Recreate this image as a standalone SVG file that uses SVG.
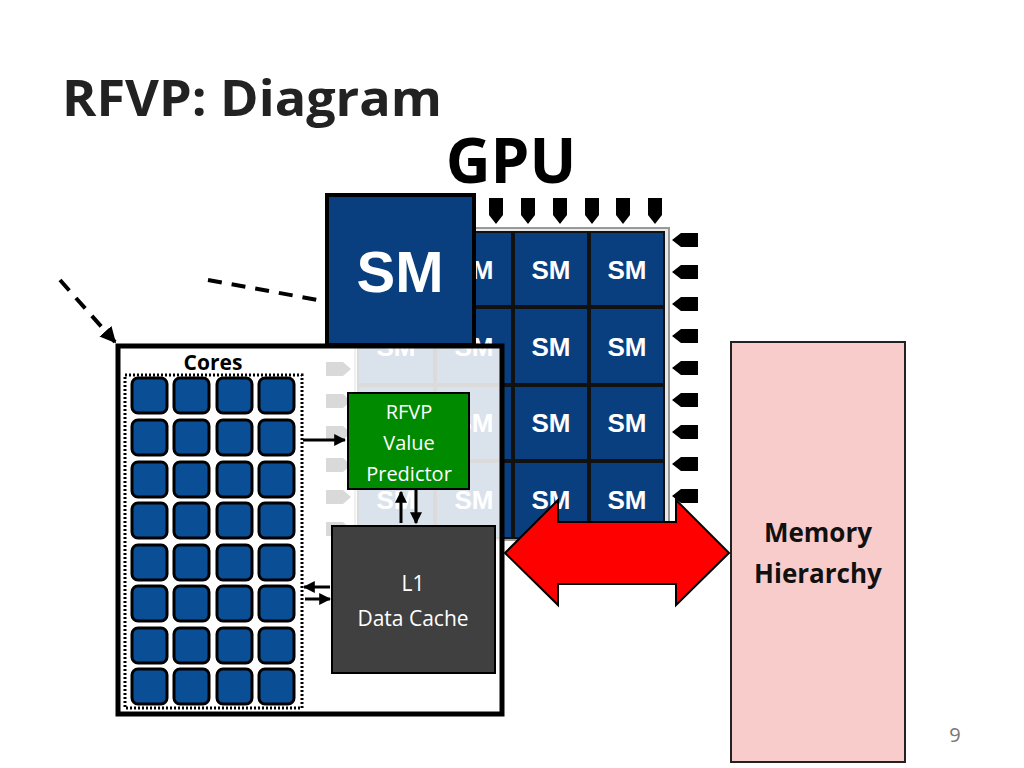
<svg xmlns="http://www.w3.org/2000/svg" width="1024" height="768" viewBox="0 0 1024 768">
<defs>
<style>
.t{font-family:"Liberation Sans",Arial,sans-serif;font-weight:bold}
.c{font-family:"Open Sans","Noto Sans",sans-serif}
.sm{fill:#0a3f7f;stroke:#111;stroke-width:2}
.core{fill:#0a4f96;stroke:#000;stroke-width:3}
.pin{fill:#000}
.ln{stroke:#000;stroke-width:3;fill:none}
</style>
<marker id="ah" viewBox="0 0 10 10" refX="9" refY="5" markerWidth="4" markerHeight="4" orient="auto"><path d="M0,0L10,5L0,10z" fill="#000"/></marker>
</defs>
<rect width="1024" height="768" fill="#fff"/>
<text x="62" y="116" class="c" font-size="50" font-weight="bold" fill="#222" textLength="380" lengthAdjust="spacingAndGlyphs">RFVP: Diagram</text>
<text x="511" y="183" class="c" font-size="62" font-weight="bold" fill="#000" text-anchor="middle">GPU</text>
<g id="gpu">
<rect x="355" y="228" width="314" height="312" fill="#e8e8e8" stroke="#999" stroke-width="2"/>
<g class="pin">
<path d="M489,198h14v17l-7,9l-7,-9z"/><path d="M521,198h14v17l-7,9l-7,-9z"/><path d="M553,198h14v17l-7,9l-7,-9z"/><path d="M585,198h14v17l-7,9l-7,-9z"/><path d="M616,198h14v17l-7,9l-7,-9z"/><path d="M648,198h14v17l-7,9l-7,-9z"/>
<path d="M698,233v14h-17l-9,-7l9,-7z"/><path d="M698,265v14h-17l-9,-7l9,-7z"/><path d="M698,297v14h-17l-9,-7l9,-7z"/><path d="M698,329v14h-17l-9,-7l9,-7z"/><path d="M698,361v14h-17l-9,-7l9,-7z"/><path d="M698,393v14h-17l-9,-7l9,-7z"/><path d="M698,425v14h-17l-9,-7l9,-7z"/><path d="M698,457v14h-17l-9,-7l9,-7z"/><path d="M698,489v14h-17l-9,-7l9,-7z"/>
<path d="M326,362h17l8,7l-8,7h-17z"/><path d="M326,394h17l8,7l-8,7h-17z"/><path d="M326,426h17l8,7l-8,7h-17z"/><path d="M326,458h17l8,7l-8,7h-17z"/><path d="M326,490h17l8,7l-8,7h-17z"/><path d="M326,522h17l8,7l-8,7h-17z"/>
</g>
<g class="t" font-size="26" fill="#fff" text-anchor="middle">
<rect class="sm" x="358" y="232" width="76" height="74"/><text x="396" y="279">SM</text>
<rect class="sm" x="436" y="232" width="76" height="74"/><text x="474" y="279">SM</text>
<rect class="sm" x="514" y="232" width="74" height="74"/><text x="551" y="279">SM</text>
<rect class="sm" x="590" y="232" width="74" height="74"/><text x="627" y="279">SM</text>
<rect class="sm" x="358" y="308" width="76" height="76"/><text x="396" y="356">SM</text>
<rect class="sm" x="436" y="308" width="76" height="76"/><text x="474" y="356">SM</text>
<rect class="sm" x="514" y="308" width="74" height="76"/><text x="551" y="356">SM</text>
<rect class="sm" x="590" y="308" width="74" height="76"/><text x="627" y="356">SM</text>
<rect class="sm" x="358" y="386" width="76" height="74"/><text x="396" y="432">SM</text>
<rect class="sm" x="436" y="386" width="76" height="74"/><text x="474" y="432">SM</text>
<rect class="sm" x="514" y="386" width="74" height="74"/><text x="551" y="432">SM</text>
<rect class="sm" x="590" y="386" width="74" height="74"/><text x="627" y="432">SM</text>
<rect class="sm" x="358" y="462" width="76" height="76"/><text x="396" y="509">SM</text>
<rect class="sm" x="436" y="462" width="76" height="76"/><text x="474" y="509">SM</text>
<rect class="sm" x="514" y="462" width="74" height="76"/><text x="551" y="509">SM</text>
<rect class="sm" x="590" y="462" width="74" height="76"/><text x="627" y="509">SM</text>
</g>
</g>
<g id="bigsm">
<rect x="327" y="195" width="147" height="150" fill="#0a3f7f" stroke="#000" stroke-width="4"/>
<text x="400" y="292" class="t" font-size="58" fill="#fff" text-anchor="middle">SM</text>
</g>
<g id="smdetail">
<rect x="118" y="346" width="384" height="368" fill="#fff" fill-opacity="0.85" stroke="#000" stroke-width="5"/>
<text x="213" y="370" class="c" font-size="21" font-weight="bold" fill="#000" text-anchor="middle">Cores</text>
<rect x="125" y="375" width="177" height="333" fill="none" stroke="#000" stroke-width="3" stroke-dasharray="2,2"/>
</g>
<g id="cores">
<rect class="core" x="132" y="378" width="35" height="35" rx="6"/><rect class="core" x="174" y="378" width="35" height="35" rx="6"/><rect class="core" x="217" y="378" width="35" height="35" rx="6"/><rect class="core" x="259" y="378" width="35" height="35" rx="6"/>
<rect class="core" x="132" y="420" width="35" height="35" rx="6"/><rect class="core" x="174" y="420" width="35" height="35" rx="6"/><rect class="core" x="217" y="420" width="35" height="35" rx="6"/><rect class="core" x="259" y="420" width="35" height="35" rx="6"/>
<rect class="core" x="132" y="462" width="35" height="35" rx="6"/><rect class="core" x="174" y="462" width="35" height="35" rx="6"/><rect class="core" x="217" y="462" width="35" height="35" rx="6"/><rect class="core" x="259" y="462" width="35" height="35" rx="6"/>
<rect class="core" x="132" y="503" width="35" height="35" rx="6"/><rect class="core" x="174" y="503" width="35" height="35" rx="6"/><rect class="core" x="217" y="503" width="35" height="35" rx="6"/><rect class="core" x="259" y="503" width="35" height="35" rx="6"/>
<rect class="core" x="132" y="545" width="35" height="35" rx="6"/><rect class="core" x="174" y="545" width="35" height="35" rx="6"/><rect class="core" x="217" y="545" width="35" height="35" rx="6"/><rect class="core" x="259" y="545" width="35" height="35" rx="6"/>
<rect class="core" x="132" y="586" width="35" height="35" rx="6"/><rect class="core" x="174" y="586" width="35" height="35" rx="6"/><rect class="core" x="217" y="586" width="35" height="35" rx="6"/><rect class="core" x="259" y="586" width="35" height="35" rx="6"/>
<rect class="core" x="132" y="628" width="35" height="35" rx="6"/><rect class="core" x="174" y="628" width="35" height="35" rx="6"/><rect class="core" x="217" y="628" width="35" height="35" rx="6"/><rect class="core" x="259" y="628" width="35" height="35" rx="6"/>
<rect class="core" x="132" y="669" width="35" height="35" rx="6"/><rect class="core" x="174" y="669" width="35" height="35" rx="6"/><rect class="core" x="217" y="669" width="35" height="35" rx="6"/><rect class="core" x="259" y="669" width="35" height="35" rx="6"/>
</g>
<g id="rfvp">
<rect x="348" y="393" width="121" height="96" fill="#008a00" stroke="#000" stroke-width="2"/>
<g class="c" font-size="20" fill="#fff" text-anchor="middle"><text x="409" y="419">RFVP</text><text x="409" y="450">Value</text><text x="409" y="481">Predictor</text></g>
</g>
<g id="l1">
<rect x="332" y="526" width="163" height="147" fill="#404040" stroke="#000" stroke-width="2"/>
<g class="c" font-size="21" fill="#fff" text-anchor="middle"><text x="413" y="591">L1</text><text x="413" y="626">Data Cache</text></g>
</g>
<g id="mem">
<rect x="731" y="342" width="174" height="420" fill="#f9cccc" stroke="#222" stroke-width="2"/>
<g class="c" font-size="26" font-weight="bold" fill="#111" text-anchor="middle"><text x="818" y="542">Memory</text><text x="818" y="583">Hierarchy</text></g>
</g>
<g id="connectors">
<path d="M505,553L558,500V522H676V500L729,553L676,605V584H558V605z" fill="#f00" stroke="#000" stroke-width="2"/>
<line class="ln" x1="303" y1="440" x2="345" y2="440" marker-end="url(#ah)"/>
<line class="ln" x1="401" y1="523" x2="401" y2="492" marker-end="url(#ah)"/>
<line class="ln" x1="416" y1="490" x2="416" y2="523" marker-end="url(#ah)"/>
<line class="ln" x1="330" y1="587" x2="304" y2="587" marker-end="url(#ah)"/>
<line class="ln" x1="305" y1="599" x2="330" y2="599" marker-end="url(#ah)"/>
<line x1="60" y1="280" x2="115" y2="342" stroke="#000" stroke-width="4" stroke-dasharray="14,10" marker-end="url(#ah)"/>
<line x1="208" y1="280" x2="318" y2="300" stroke="#000" stroke-width="4" stroke-dasharray="14,10"/>
</g>
<text x="955" y="742" class="c" font-size="20" fill="#777" text-anchor="middle">9</text>
</svg>
